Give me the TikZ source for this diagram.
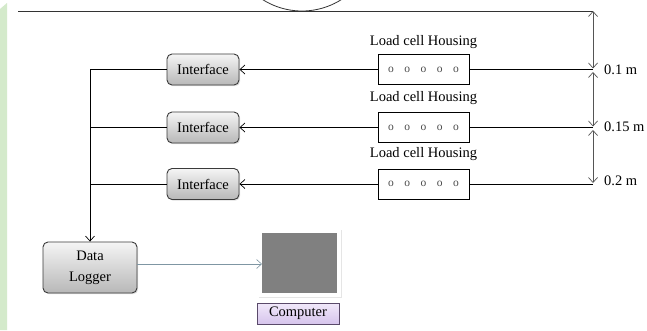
\documentclass[tikz,border=0pt]{standalone}
\usepackage{fontspec}
\setmainfont{Liberation Serif}
\usetikzlibrary{arrows.meta,shadows}
\definecolor{stripgreen}{HTML}{D4EACB}
\definecolor{boxborder}{HTML}{3A3A3A}
\definecolor{dimgray}{HTML}{555555}
\definecolor{linkblue}{HTML}{7F96A3}
\definecolor{compgray}{HTML}{808080}
\definecolor{purpletop}{HTML}{F1E9FA}
\definecolor{purplebot}{HTML}{D6C4EC}
\definecolor{purpleborder}{HTML}{5A4A6A}
\tikzset{
  x=1pt, y=-1pt,
  every node/.style={font=\fontsize{14.5}{16}\selectfont, inner sep=0pt},
  ifacebox/.style={draw=boxborder, line width=0.9pt, rounded corners=5pt,
    top color=white!96!black, bottom color=black!28, minimum width=72pt, minimum height=31pt,
    drop shadow={shadow xshift=1.2pt, shadow yshift=-1.2pt, opacity=0.25}},
  cellbox/.style={draw=black, line width=0.8pt, fill=white, minimum width=91pt, minimum height=30pt},
  celllabel/.style={font=\fontsize{14.5}{16}\selectfont},
  dimlabel/.style={anchor=west, font=\fontsize{14.5}{16}\selectfont},
  wire/.style={line width=0.8pt, black},
  arr/.style={wire, -{Straight Barb[length=5pt,width=9pt,line width=0.7pt]}},
  dim/.style={line width=0.8pt, dimgray, {Straight Barb[length=5pt,width=9pt,line width=0.7pt]}-{Straight Barb[length=5pt,width=9pt,line width=0.7pt]}},
  dots/.style={text=black!70, font=\fontsize{11.5}{12}\selectfont}
}
\newcommand{\cellrow}{o\hspace{10.5pt}o\hspace{10.5pt}o\hspace{10.5pt}o\hspace{10.5pt}o}
\begin{document}
\begin{tikzpicture}
\useasboundingbox (0,0) rectangle (647,330);
\fill[white] (0,0) rectangle (647,330);
% green strip
\fill[stripgreen] (0,9) -- (7,3) -- (7,330) -- (0,330) -- cycle;
% top wheel and line
\begin{scope}
\clip (0,0) rectangle (647,330);
\draw[line width=0.8pt, black!80] (302,-62.5) circle[radius=73.5];
\end{scope}
\coordinate (topL) at (18,11);
\coordinate (topR) at (593,11);
\draw[wire, black!80] (topL) -- (topR);

% load cells
\node[cellbox] (cell1) at (423.5,69.5) {};
\node[dots] (dots1) at (cell1.center) {\cellrow};
\node[celllabel] (lbl1) at (423.5,42) {Load cell Housing};

\node[cellbox] (cell2) at (423.5,127.5) {};
\node[dots] (dots2) at (cell2.center) {\cellrow};
\node[celllabel] (lbl2) at (423.5,98) {Load cell Housing};

\node[cellbox] (cell3) at (423.5,184) {};
\node[dots] (dots3) at (cell3.center) {\cellrow};
\node[celllabel] (lbl3) at (423.5,154) {Load cell Housing};

% interfaces
\node[ifacebox] (if1) at (203,69.5) {Interface};
\node[ifacebox] (if2) at (203,127.5) {Interface};
\node[ifacebox] (if3) at (203,184) {Interface};

% data logger and computer
\node[ifacebox, minimum width=94pt, minimum height=51pt, align=center,
      font=\fontsize{14.5}{21}\selectfont] (logger) at (90,267.5) {Data\\Logger};
\node[fill=white, minimum width=83pt, minimum height=68pt,
      drop shadow={shadow xshift=0.8pt, shadow yshift=-0.8pt, opacity=0.2}] (screenframe) at (299.5,263) {};
\node[fill=compgray, minimum width=75pt, minimum height=60pt] (screen) at (299.5,263) {};
\node[draw=purpleborder, line width=0.6pt, top color=purpletop, bottom color=purplebot,
      minimum width=82pt, minimum height=21pt] (comp) at (298,313.5) {Computer};

% connectors cell -> interface
\draw[arr] (cell1.west) -- (if1.east);
\draw[arr] (cell2.west) -- (if2.east);
\draw[arr] (cell3.west) -- (if3.east);

% left bus
\coordinate (j1) at (90,69.5);
\coordinate (j2) at (90,127.5);
\coordinate (j3) at (90,184);
\draw[wire] (if1.west) -- (j1);
\draw[wire] (if2.west) -- (j2);
\draw[wire] (if3.west) -- (j3);
\draw[arr] (j1) -- (logger.north);

% logger -> computer
\coordinate (lg) at (137,264);
\coordinate (sc) at (262,264);
\draw[line width=0.7pt, linkblue, -{Straight Barb[length=5pt,width=9pt,line width=0.6pt]}] (lg) -- (sc);

% right side lines
\coordinate (r1) at (593,69.5);
\coordinate (r2) at (593,127.5);
\coordinate (r3) at (593,184);
\draw[wire] (cell1.east) -- (r1);
\draw[wire] (cell2.east) -- (r2);
\draw[wire] (cell3.east) -- (r3);

% dimension arrows
\coordinate (d1b) at (593,68.5);
\coordinate (d2a) at (593,72);
\coordinate (d2b) at (593,126.5);
\coordinate (d3a) at (593,130);
\coordinate (d3b) at (593,183);
\draw[dim] (d1b) -- (topR);
\draw[dim] (d2b) -- (d2a);
\draw[dim] (d3b) -- (d3a);

\node[dimlabel] (m1) at (604,70) {0.1 m};
\node[dimlabel] (m2) at (604,127) {0.15 m};
\node[dimlabel] (m3) at (604,181) {0.2 m};
\end{tikzpicture}
\end{document}
